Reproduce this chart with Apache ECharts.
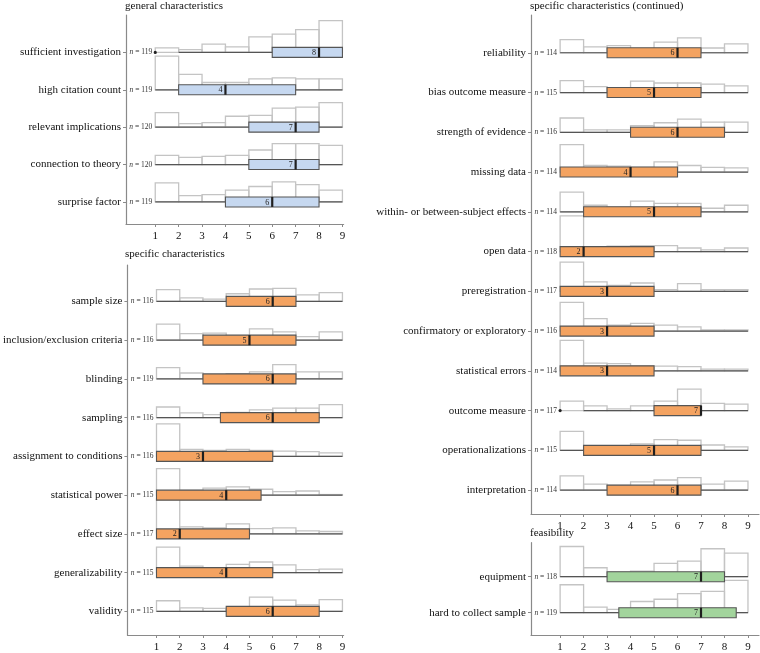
<!DOCTYPE html>
<html>
<head>
<meta charset="utf-8">
<title>rated characteristics</title>
<script src="https://cdn.jsdelivr.net/npm/echarts@6/dist/echarts.min.js"></script>
<style>
  html, body { margin: 0; padding: 0; background: #fff; }
  #chart { width: 760px; height: 653px; }
</style>
</head>
<body>
<div id="chart"></div>
<script>
  // ratings go 1..9, histograms have 8 bins: 1-2, 2-3, ... 8-9
  const xTicks = [1, 2, 3, 4, 5, 6, 7, 8, 9];

  // general characteristics
  const generalLabels = ['sufficient investigation', 'high citation count', 'relevant implications', 'connection to theory', 'surprise factor'];
  const generalN = [119, 119, 120, 120, 119];
  const generalCounts = [
    [5, 3, 9, 6, 17, 20, 25, 35],
    [37, 17, 8, 8, 12, 13, 12, 12],
    [16, 4, 5, 12, 13, 21, 22, 27],
    [10, 8, 9, 10, 16, 23, 23, 21],
    [21, 7, 8, 13, 17, 22, 19, 13]
  ];
  // [whisker low, q1, median, q3, whisker high]
  const generalBox = [[2, 6, 8, 9, 9], [1, 2, 4, 7, 9], [1, 5, 7, 8, 9], [1, 5, 7, 8, 9], [1, 4, 6, 8, 9]];
  const generalOutliers = [[1], [], [], [], []];

  // specific characteristics
  const specificLabels = ['sample size', 'inclusion/exclusion criteria', 'blinding', 'sampling', 'assignment to conditions',
    'statistical power', 'effect size', 'generalizability', 'validity'];
  const specificN = [116, 116, 119, 116, 116, 115, 117, 115, 115];
  const specificCounts = [
    [20, 6, 4, 13, 21, 22, 11, 15],
    [27, 11, 12, 6, 19, 14, 6, 14],
    [19, 10, 7, 9, 12, 24, 12, 12],
    [18, 8, 5, 9, 13, 16, 16, 22],
    [55, 12, 10, 12, 10, 9, 8, 6],
    [45, 8, 12, 14, 10, 6, 7, 1],
    [59, 12, 10, 17, 9, 10, 5, 4],
    [43, 11, 8, 14, 18, 13, 5, 6],
    [18, 6, 5, 5, 24, 19, 11, 20]
  ];
  const specificBox = [[1, 4, 6, 7, 9], [1, 3, 5, 7, 9], [1, 3, 6, 7, 9], [1, 3.75, 6, 8, 9], [1, 1, 3, 6, 9],
    [1, 1, 4, 5.5, 9], [1, 1, 2, 5, 9], [1, 1, 4, 6, 9], [1, 4, 6, 8, 9]];
  const specificOutliers = [[], [], [], [], [], [], [], [], []];

  // specific characteristics (continued)
  const contLabels = ['reliability', 'bias outcome measure', 'strength of evidence', 'missing data', 'within- or between-subject effects',
    'open data', 'preregistration', 'confirmatory or exploratory', 'statistical errors', 'outcome measure', 'operationalizations', 'interpretation'];
  const contN = [114, 115, 116, 114, 114, 118, 117, 116, 114, 117, 115, 114];
  const contCounts = [
    [22, 10, 12, 6, 18, 25, 8, 15],
    [20, 10, 8, 19, 16, 16, 14, 11],
    [24, 4, 4, 11, 16, 22, 17, 17],
    [46, 11, 10, 8, 17, 11, 8, 7],
    [33, 11, 8, 18, 14, 14, 6, 11],
    [60, 8, 9, 10, 10, 6, 3, 6],
    [49, 16, 10, 14, 3, 13, 3, 3],
    [48, 21, 10, 13, 10, 7, 2, 2],
    [51, 13, 12, 8, 8, 7, 3, 3],
    [16, 8, 3, 8, 16, 36, 12, 11],
    [32, 8, 7, 11, 18, 17, 9, 6],
    [24, 10, 8, 14, 17, 21, 10, 15]
  ];
  const contBox = [[1, 3, 6, 7, 9], [1, 3, 5, 7, 9], [1, 4, 6, 8, 9], [1, 1, 4, 6, 9], [1, 2, 5, 7, 9], [1, 1, 2, 5, 9],
    [1, 1, 3, 5, 9], [1, 1, 3, 5, 9], [1, 1, 3, 5, 9], [2, 5, 7, 7, 9], [1, 2, 5, 7, 9], [1, 3, 6, 7, 9]];
  const contOutliers = [[], [], [], [], [], [], [], [], [], [1], [], []];

  // feasibility
  const feasLabels = ['equipment', 'hard to collect sample'];
  const feasN = [118, 119];
  const feasCounts = [
    [27, 8, 4, 5, 12, 14, 25, 21],
    [25, 5, 3, 10, 12, 17, 19, 29]
  ];
  const feasBox = [[1, 3, 7, 8, 9], [1, 3.5, 7, 8.5, 9]];
  const feasOutliers = [[], []];

  const serif = 'Liberation Serif';
  const textColor = '#111';
  const axisColor = '#8a8a8a';

  const panels = [
    { title: 'general characteristics', labels: generalLabels, n: generalN, counts: generalCounts, box: generalBox, out: generalOutliers,
      fill: '#c6d8f0', grid: { left: 126, top: 15, width: 217.6, height: 209 }, xMin: -0.25, xMax: 9.05, yMin: 0.0, yMax: 5.59, titleTop: 1 },
    { title: 'specific characteristics', labels: specificLabels, n: specificN, counts: specificCounts, box: specificBox, out: specificOutliers,
      fill: '#f4a361', grid: { left: 126, top: 265, width: 217.6, height: 372.7 }, xMin: -0.25, xMax: 9.05, yMin: 0.06, yMax: 9.61, titleTop: 249 },
    { title: 'specific characteristics (continued)', labels: contLabels, n: contN, counts: contCounts, box: contBox, out: contOutliers,
      fill: '#f4a361', grid: { left: 531, top: 15, width: 228, height: 499 }, xMin: -0.24, xMax: 9.47, yMin: 0.05, yMax: 12.6, titleTop: 1 },
    { title: 'feasibility', labels: feasLabels, n: feasN, counts: feasCounts, box: feasBox, out: feasOutliers,
      fill: '#a2d49c', grid: { left: 531, top: 542.7, width: 228, height: 92.3 }, xMin: -0.24, xMax: 9.47, yMin: 0.056, yMax: 2.62, titleTop: 528 }
  ];

  function histRender(p) {
    let maxCount = 0;
    p.counts.forEach(r => r.forEach(c => { if (c > maxCount) maxCount = c; }));
    return function (params, api) {
      const row = api.value(1);
      const c = p.counts[row - 1];
      const children = [];
      for (let b = 0; b < c.length; b++) {
        const p0 = api.coord([b + 1, row]);
        const p1 = api.coord([b + 2, row - c[b] / maxCount * 0.9]);
        children.push({
          type: 'rect',
          shape: { x: p0[0], y: p1[1], width: p1[0] - p0[0], height: p0[1] - p1[1] },
          style: { fill: 'none', stroke: '#c4c4c4', lineWidth: 1.3 }
        });
      }
      return { type: 'group', children: children };
    };
  }

  function boxRender(p) {
    return function (params, api) {
      const row = api.value(1);
      const s = p.box[row - 1];
      const y = api.coord([1, row])[1];
      const xs = s.map(v => api.coord([v, row])[0]);
      const x1 = api.coord([1, row])[0];
      const half = 5;
      const children = [
        { type: 'line', shape: { x1: xs[0], y1: y, x2: xs[4], y2: y }, style: { stroke: '#555', lineWidth: 1.2 } },
        { type: 'rect', shape: { x: xs[1], y: y - half, width: xs[3] - xs[1], height: half * 2 },
          style: { fill: p.fill, stroke: '#555', lineWidth: 1.1 } },
        { type: 'line', shape: { x1: xs[2], y1: y - half, x2: xs[2], y2: y + half }, style: { stroke: '#1f1f1f', lineWidth: 2.2 } },
        { type: 'text', style: { x: xs[2] - 3, y: y + 0.5, text: String(s[2]), align: 'right', verticalAlign: 'middle',
          fontFamily: serif, fontSize: 8, fill: '#222' } },
        { type: 'text', style: { x: x1 - 3, y: y, text: '{i|n} = ' + p.n[row - 1], align: 'right', verticalAlign: 'middle',
          fontFamily: serif, fontSize: 7.5, fill: '#333',
          rich: { i: { fontFamily: serif, fontStyle: 'italic', fontSize: 7.5, fill: '#333' } } } }
      ];
      p.out[row - 1].forEach(o => {
        const q = api.coord([o, row]);
        children.push({ type: 'circle', shape: { cx: q[0], cy: q[1], r: 1.6 }, style: { fill: '#222' } });
      });
      return { type: 'group', children: children };
    };
  }

  const option = {
    animation: false,
    backgroundColor: '#fff',
    title: panels.map(p => ({
      text: p.title, left: p.grid.left - 1, top: p.titleTop, padding: 0,
      textStyle: { fontFamily: serif, fontSize: 11, fontWeight: 'normal', color: textColor }
    })),
    grid: panels.map(p => Object.assign({ containLabel: false }, p.grid)),
    xAxis: panels.map((p, i) => ({
      type: 'value', gridIndex: i, min: p.xMin, max: p.xMax,
      axisLine: { show: true, onZero: false, lineStyle: { color: axisColor, width: 1.2 } },
      axisTick: { show: true, length: 3, customValues: xTicks, lineStyle: { color: axisColor } },
      axisLabel: { customValues: xTicks, margin: 7, fontFamily: serif, fontSize: 11, color: textColor },
      splitLine: { show: false }
    })),
    yAxis: panels.map((p, i) => ({
      type: 'value', gridIndex: i, inverse: true, min: p.yMin, max: p.yMax,
      axisLine: { show: true, onZero: false, lineStyle: { color: axisColor, width: 1.2 } },
      axisTick: { show: true, length: 3, customValues: p.labels.map((l, k) => k + 1), lineStyle: { color: axisColor } },
      axisLabel: { customValues: p.labels.map((l, k) => k + 1), formatter: v => p.labels[v - 1] || '',
        margin: 5, fontFamily: serif, fontSize: 11, color: textColor },
      splitLine: { show: false }
    })),
    series: []
  };

  panels.forEach((p, i) => {
    const rows = p.labels.map((l, k) => [1, k + 1]);
    option.series.push({ type: 'custom', xAxisIndex: i, yAxisIndex: i, data: rows, renderItem: histRender(p), z: 1, clip: false, silent: true });
    option.series.push({ type: 'custom', xAxisIndex: i, yAxisIndex: i, data: rows, renderItem: boxRender(p), z: 2, clip: false, silent: true });
  });

  const myChart = echarts.init(document.getElementById('chart'));
  myChart.setOption(option);
</script>
</body>
</html>
